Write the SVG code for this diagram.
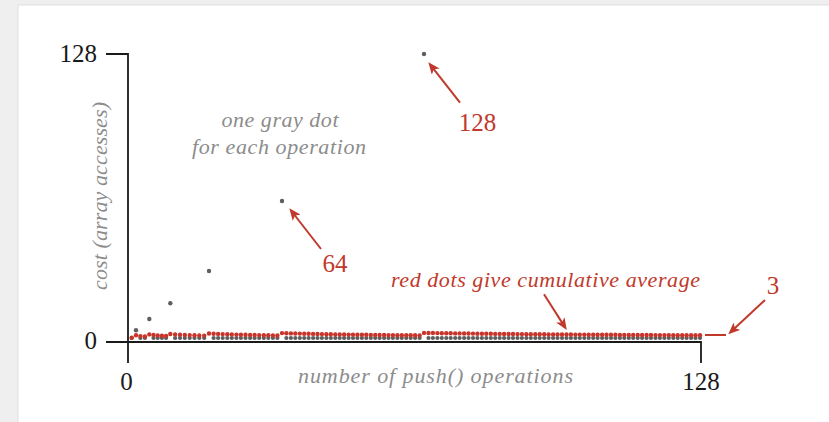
<svg xmlns="http://www.w3.org/2000/svg" xmlns:xlink="http://www.w3.org/1999/xlink" width="829" height="422" viewBox="0 0 829 422">
<style>
.num{font-family:"Liberation Serif","Times New Roman",serif;font-size:25px;fill:#1a1a1a}
.rnum{font-family:"Liberation Serif","Times New Roman",serif;font-size:25px;fill:#c0392b}
.gt{font-family:"Liberation Serif","Times New Roman",serif;font-style:italic;font-size:22px;fill:#8c8c8c}
.rt{font-family:"Liberation Serif","Times New Roman",serif;font-style:italic;font-size:22px;fill:#c0392b}
.axis{stroke:#1a1a1a;stroke-width:1.8;fill:none}
.arr{stroke:#c0392b;stroke-width:2;fill:none;marker-end:url(#ah)}
.gd circle{fill:#5e5e5e}
.rd circle{fill:#c8342a}
</style>
<defs>
<marker id="ah" viewBox="0 0 12 10" refX="8" refY="5" markerWidth="12" markerHeight="10" markerUnits="userSpaceOnUse" orient="auto">
<path d="M0,0 L12,5 L0,10 L3,5 z" fill="#c0392b"/>
</marker>
</defs>
<rect x="0" y="0" width="829" height="422" fill="#efefef"/>
<rect x="18" y="5" width="812" height="418" fill="#ffffff" stroke="#e0e0e0" stroke-width="1"/>

<g id="axes">
<path class="axis" d="M106,54 H128 V363"/>
<path class="axis" d="M106,342 H701 V363"/>
<text class="num" x="97" y="62" text-anchor="end">128</text>
<text class="num" x="97" y="349" text-anchor="end">0</text>
<text class="num" x="126.5" y="390" text-anchor="middle">0</text>
<text class="num" x="701" y="390" text-anchor="middle">128</text>
<text class="gt" x="435.5" y="383" text-anchor="middle" textLength="275">number of push() operations</text>
<text class="gt" transform="translate(107,196) rotate(-90)" text-anchor="middle" textLength="188">cost (array accesses)</text>
</g>

<g id="gray-dots" class="gd">
<circle cx="131.7" cy="338" r="2.1"/><circle cx="140.4" cy="338" r="2.1"/><circle cx="144.9" cy="338" r="2.1"/>
<circle cx="153.5" cy="338" r="2.1"/><circle cx="157.7" cy="338" r="2.1"/><circle cx="161.9" cy="338" r="2.1"/><circle cx="166.1" cy="338" r="2.1"/>
<circle cx="175.1" cy="338" r="2.1"/><circle cx="180.0" cy="338" r="2.1"/><circle cx="184.8" cy="338" r="2.1"/><circle cx="189.7" cy="338" r="2.1"/><circle cx="194.5" cy="338" r="2.1"/><circle cx="199.3" cy="338" r="2.1"/><circle cx="204.2" cy="338" r="2.1"/>
<circle cx="213.6" cy="338" r="2.1"/><circle cx="218.1" cy="338" r="2.1"/><circle cx="222.7" cy="338" r="2.1"/><circle cx="227.3" cy="338" r="2.1"/><circle cx="231.8" cy="338" r="2.1"/><circle cx="236.4" cy="338" r="2.1"/><circle cx="240.9" cy="338" r="2.1"/><circle cx="245.5" cy="338" r="2.1"/><circle cx="250.1" cy="338" r="2.1"/><circle cx="254.6" cy="338" r="2.1"/><circle cx="259.2" cy="338" r="2.1"/><circle cx="263.8" cy="338" r="2.1"/><circle cx="268.3" cy="338" r="2.1"/><circle cx="272.9" cy="338" r="2.1"/><circle cx="277.4" cy="338" r="2.1"/>
<circle cx="286.4" cy="338" r="2.1"/><circle cx="290.9" cy="338" r="2.1"/><circle cx="295.3" cy="338" r="2.1"/><circle cx="299.8" cy="338" r="2.1"/><circle cx="304.2" cy="338" r="2.1"/><circle cx="308.6" cy="338" r="2.1"/><circle cx="313.1" cy="338" r="2.1"/><circle cx="317.5" cy="338" r="2.1"/><circle cx="321.9" cy="338" r="2.1"/><circle cx="326.4" cy="338" r="2.1"/><circle cx="330.8" cy="338" r="2.1"/><circle cx="335.3" cy="338" r="2.1"/><circle cx="339.7" cy="338" r="2.1"/><circle cx="344.1" cy="338" r="2.1"/><circle cx="348.6" cy="338" r="2.1"/><circle cx="353.0" cy="338" r="2.1"/><circle cx="357.4" cy="338" r="2.1"/><circle cx="361.9" cy="338" r="2.1"/><circle cx="366.3" cy="338" r="2.1"/><circle cx="370.8" cy="338" r="2.1"/><circle cx="375.2" cy="338" r="2.1"/><circle cx="379.6" cy="338" r="2.1"/><circle cx="384.1" cy="338" r="2.1"/><circle cx="388.5" cy="338" r="2.1"/><circle cx="392.9" cy="338" r="2.1"/><circle cx="397.4" cy="338" r="2.1"/><circle cx="401.8" cy="338" r="2.1"/><circle cx="406.3" cy="338" r="2.1"/><circle cx="410.7" cy="338" r="2.1"/><circle cx="415.1" cy="338" r="2.1"/><circle cx="419.6" cy="338" r="2.1"/>
<circle cx="428.5" cy="338" r="2.1"/><circle cx="432.9" cy="338" r="2.1"/><circle cx="437.4" cy="338" r="2.1"/><circle cx="441.8" cy="338" r="2.1"/><circle cx="446.3" cy="338" r="2.1"/><circle cx="450.7" cy="338" r="2.1"/><circle cx="455.2" cy="338" r="2.1"/><circle cx="459.6" cy="338" r="2.1"/><circle cx="464.1" cy="338" r="2.1"/><circle cx="468.5" cy="338" r="2.1"/><circle cx="473.0" cy="338" r="2.1"/><circle cx="477.4" cy="338" r="2.1"/><circle cx="481.9" cy="338" r="2.1"/><circle cx="486.3" cy="338" r="2.1"/><circle cx="490.8" cy="338" r="2.1"/><circle cx="495.2" cy="338" r="2.1"/><circle cx="499.7" cy="338" r="2.1"/><circle cx="504.1" cy="338" r="2.1"/><circle cx="508.6" cy="338" r="2.1"/><circle cx="513.0" cy="338" r="2.1"/><circle cx="517.5" cy="338" r="2.1"/><circle cx="521.9" cy="338" r="2.1"/><circle cx="526.4" cy="338" r="2.1"/><circle cx="530.8" cy="338" r="2.1"/><circle cx="535.3" cy="338" r="2.1"/><circle cx="539.7" cy="338" r="2.1"/><circle cx="544.2" cy="338" r="2.1"/><circle cx="548.6" cy="338" r="2.1"/><circle cx="553.1" cy="338" r="2.1"/><circle cx="557.5" cy="338" r="2.1"/><circle cx="562.0" cy="338" r="2.1"/><circle cx="566.5" cy="338" r="2.1"/><circle cx="570.9" cy="338" r="2.1"/><circle cx="575.4" cy="338" r="2.1"/><circle cx="579.8" cy="338" r="2.1"/><circle cx="584.3" cy="338" r="2.1"/><circle cx="588.7" cy="338" r="2.1"/><circle cx="593.2" cy="338" r="2.1"/><circle cx="597.6" cy="338" r="2.1"/><circle cx="602.1" cy="338" r="2.1"/><circle cx="606.5" cy="338" r="2.1"/><circle cx="611.0" cy="338" r="2.1"/><circle cx="615.4" cy="338" r="2.1"/><circle cx="619.9" cy="338" r="2.1"/><circle cx="624.3" cy="338" r="2.1"/><circle cx="628.8" cy="338" r="2.1"/><circle cx="633.2" cy="338" r="2.1"/><circle cx="637.7" cy="338" r="2.1"/><circle cx="642.1" cy="338" r="2.1"/><circle cx="646.6" cy="338" r="2.1"/><circle cx="651.0" cy="338" r="2.1"/><circle cx="655.5" cy="338" r="2.1"/><circle cx="659.9" cy="338" r="2.1"/><circle cx="664.4" cy="338" r="2.1"/><circle cx="668.8" cy="338" r="2.1"/><circle cx="673.3" cy="338" r="2.1"/><circle cx="677.7" cy="338" r="2.1"/><circle cx="682.2" cy="338" r="2.1"/><circle cx="686.6" cy="338" r="2.1"/><circle cx="691.1" cy="338" r="2.1"/><circle cx="695.5" cy="338" r="2.1"/><circle cx="700.0" cy="338" r="2.1"/>
<circle cx="136.0" cy="330.3" r="2.2"/><circle cx="149.3" cy="319.0" r="2.2"/><circle cx="170.3" cy="303.3" r="2.2"/><circle cx="209.0" cy="271.0" r="2.2"/><circle cx="282.0" cy="201.0" r="2.2"/><circle cx="424.0" cy="54.0" r="2.2"/>
</g>

<g id="red-dots" class="rd">
<circle cx="131.7" cy="337.8" r="2.2"/><circle cx="136.0" cy="335.2" r="2.2"/><circle cx="140.4" cy="336.1" r="2.2"/><circle cx="144.9" cy="336.5" r="2.2"/><circle cx="149.3" cy="334.4" r="2.2"/><circle cx="153.5" cy="335.0" r="2.2"/><circle cx="157.7" cy="335.4" r="2.2"/><circle cx="161.9" cy="335.7" r="2.2"/><circle cx="166.1" cy="335.9" r="2.2"/><circle cx="170.3" cy="334.0" r="2.2"/>
<circle cx="175.1" cy="334.4" r="2.2"/><circle cx="180.0" cy="334.7" r="2.2"/><circle cx="184.8" cy="334.9" r="2.2"/><circle cx="189.7" cy="335.1" r="2.2"/><circle cx="194.5" cy="335.3" r="2.2"/><circle cx="199.3" cy="335.4" r="2.2"/><circle cx="204.2" cy="335.6" r="2.2"/><circle cx="209.0" cy="333.5" r="2.2"/>
<circle cx="213.6" cy="333.7" r="2.2"/><circle cx="218.1" cy="333.9" r="2.2"/><circle cx="222.7" cy="334.1" r="2.2"/><circle cx="227.3" cy="334.3" r="2.2"/><circle cx="231.8" cy="334.4" r="2.2"/><circle cx="236.4" cy="334.6" r="2.2"/><circle cx="240.9" cy="334.7" r="2.2"/><circle cx="245.5" cy="334.8" r="2.2"/><circle cx="250.1" cy="334.9" r="2.2"/><circle cx="254.6" cy="335.0" r="2.2"/><circle cx="259.2" cy="335.1" r="2.2"/><circle cx="263.8" cy="335.2" r="2.2"/><circle cx="268.3" cy="335.3" r="2.2"/><circle cx="272.9" cy="335.4" r="2.2"/><circle cx="277.4" cy="335.4" r="2.2"/><circle cx="282.0" cy="333.1" r="2.2"/>
<circle cx="286.4" cy="333.3" r="2.2"/><circle cx="290.9" cy="333.4" r="2.2"/><circle cx="295.3" cy="333.5" r="2.2"/><circle cx="299.8" cy="333.6" r="2.2"/><circle cx="304.2" cy="333.7" r="2.2"/><circle cx="308.6" cy="333.8" r="2.2"/><circle cx="313.1" cy="333.9" r="2.2"/><circle cx="317.5" cy="334.0" r="2.2"/><circle cx="321.9" cy="334.1" r="2.2"/><circle cx="326.4" cy="334.2" r="2.2"/><circle cx="330.8" cy="334.3" r="2.2"/><circle cx="335.3" cy="334.4" r="2.2"/><circle cx="339.7" cy="334.4" r="2.2"/><circle cx="344.1" cy="334.5" r="2.2"/><circle cx="348.6" cy="334.6" r="2.2"/><circle cx="353.0" cy="334.6" r="2.2"/><circle cx="357.4" cy="334.7" r="2.2"/><circle cx="361.9" cy="334.8" r="2.2"/><circle cx="366.3" cy="334.8" r="2.2"/><circle cx="370.8" cy="334.9" r="2.2"/><circle cx="375.2" cy="334.9" r="2.2"/><circle cx="379.6" cy="335.0" r="2.2"/><circle cx="384.1" cy="335.0" r="2.2"/><circle cx="388.5" cy="335.1" r="2.2"/><circle cx="392.9" cy="335.1" r="2.2"/><circle cx="397.4" cy="335.2" r="2.2"/><circle cx="401.8" cy="335.2" r="2.2"/><circle cx="406.3" cy="335.2" r="2.2"/><circle cx="410.7" cy="335.3" r="2.2"/><circle cx="415.1" cy="335.3" r="2.2"/><circle cx="419.6" cy="335.4" r="2.2"/><circle cx="424.0" cy="332.9" r="2.2"/>
<circle cx="428.5" cy="333.0" r="2.2"/><circle cx="432.9" cy="333.0" r="2.2"/><circle cx="437.4" cy="333.1" r="2.2"/><circle cx="441.8" cy="333.2" r="2.2"/><circle cx="446.3" cy="333.2" r="2.2"/><circle cx="450.7" cy="333.3" r="2.2"/><circle cx="455.2" cy="333.4" r="2.2"/><circle cx="459.6" cy="333.4" r="2.2"/><circle cx="464.1" cy="333.5" r="2.2"/><circle cx="468.5" cy="333.5" r="2.2"/><circle cx="473.0" cy="333.6" r="2.2"/><circle cx="477.4" cy="333.7" r="2.2"/><circle cx="481.9" cy="333.7" r="2.2"/><circle cx="486.3" cy="333.8" r="2.2"/><circle cx="490.8" cy="333.8" r="2.2"/><circle cx="495.2" cy="333.9" r="2.2"/><circle cx="499.7" cy="333.9" r="2.2"/><circle cx="504.1" cy="334.0" r="2.2"/><circle cx="508.6" cy="334.0" r="2.2"/><circle cx="513.0" cy="334.0" r="2.2"/><circle cx="517.5" cy="334.1" r="2.2"/><circle cx="521.9" cy="334.1" r="2.2"/><circle cx="526.4" cy="334.2" r="2.2"/><circle cx="530.8" cy="334.2" r="2.2"/><circle cx="535.3" cy="334.2" r="2.2"/><circle cx="539.7" cy="334.3" r="2.2"/><circle cx="544.2" cy="334.3" r="2.2"/><circle cx="548.6" cy="334.4" r="2.2"/><circle cx="553.1" cy="334.4" r="2.2"/><circle cx="557.5" cy="334.4" r="2.2"/><circle cx="562.0" cy="334.5" r="2.2"/><circle cx="566.5" cy="334.5" r="2.2"/><circle cx="570.9" cy="334.5" r="2.2"/><circle cx="575.4" cy="334.6" r="2.2"/><circle cx="579.8" cy="334.6" r="2.2"/><circle cx="584.3" cy="334.6" r="2.2"/><circle cx="588.7" cy="334.7" r="2.2"/><circle cx="593.2" cy="334.7" r="2.2"/><circle cx="597.6" cy="334.7" r="2.2"/><circle cx="602.1" cy="334.8" r="2.2"/><circle cx="606.5" cy="334.8" r="2.2"/><circle cx="611.0" cy="334.8" r="2.2"/><circle cx="615.4" cy="334.8" r="2.2"/><circle cx="619.9" cy="334.9" r="2.2"/><circle cx="624.3" cy="334.9" r="2.2"/><circle cx="628.8" cy="334.9" r="2.2"/><circle cx="633.2" cy="334.9" r="2.2"/><circle cx="637.7" cy="335.0" r="2.2"/><circle cx="642.1" cy="335.0" r="2.2"/><circle cx="646.6" cy="335.0" r="2.2"/><circle cx="651.0" cy="335.0" r="2.2"/><circle cx="655.5" cy="335.1" r="2.2"/><circle cx="659.9" cy="335.1" r="2.2"/><circle cx="664.4" cy="335.1" r="2.2"/><circle cx="668.8" cy="335.1" r="2.2"/><circle cx="673.3" cy="335.2" r="2.2"/><circle cx="677.7" cy="335.2" r="2.2"/><circle cx="682.2" cy="335.2" r="2.2"/><circle cx="686.6" cy="335.2" r="2.2"/><circle cx="691.1" cy="335.2" r="2.2"/><circle cx="695.5" cy="335.3" r="2.2"/><circle cx="700.0" cy="335.3" r="2.2"/>
</g>

<g id="labels">
<g id="note-gray">
<text class="gt" x="280" y="127" text-anchor="middle" textLength="117">one gray dot</text>
<text class="gt" x="279" y="154" text-anchor="middle" textLength="174">for each operation</text>
</g>
<g id="note-red">
<text class="rt" x="545.5" y="287" text-anchor="middle" textLength="309">red dots give cumulative average</text>
</g>
<g id="label-128"><text class="rnum" x="477.5" y="131" text-anchor="middle">128</text></g>
<g id="label-64"><text class="rnum" x="335" y="272" text-anchor="middle">64</text></g>
<g id="label-3"><text class="rnum" x="773" y="294" text-anchor="middle">3</text></g>
</g>

<g id="connectors">
<line class="arr" x1="460" y1="102.7" x2="430.8" y2="65.4"/>
<line class="arr" x1="321" y1="249" x2="291.8" y2="211.5"/>
<line class="arr" x1="544" y1="294.3" x2="564.6" y2="326.6"/>
<line class="arr" x1="765" y1="300" x2="731.2" y2="331.6"/>
<line x1="705" y1="335" x2="726" y2="335" stroke="#c0392b" stroke-width="2"/>
</g>
</svg>
